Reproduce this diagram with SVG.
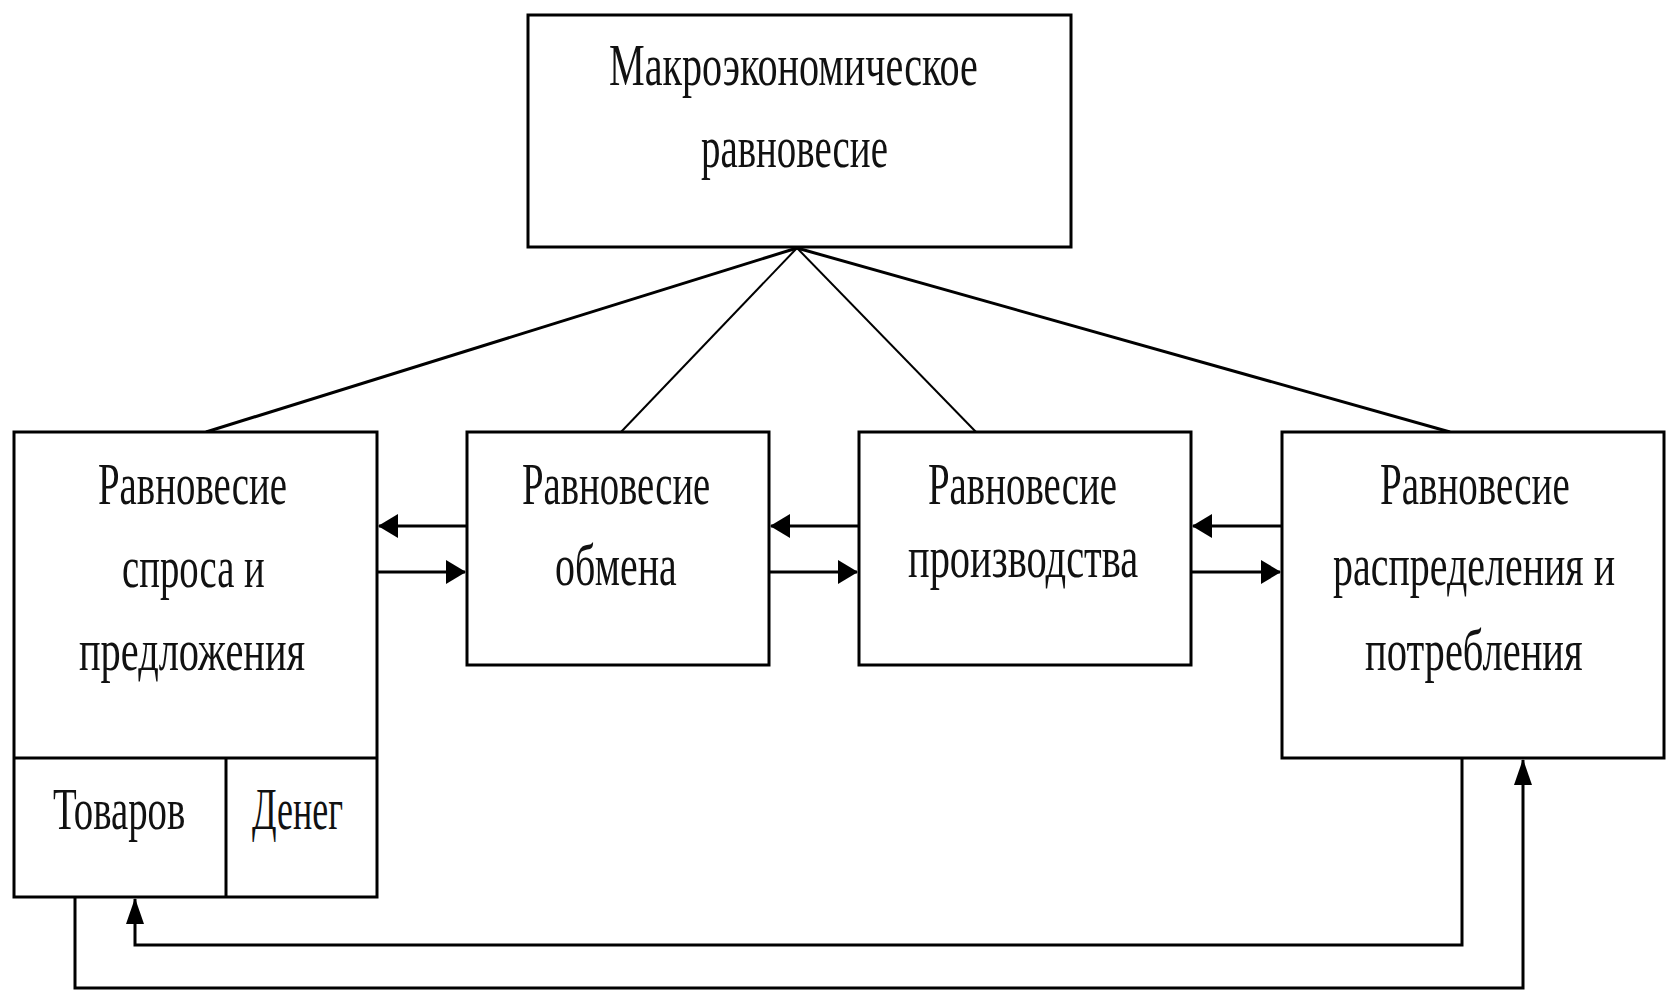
<svg xmlns="http://www.w3.org/2000/svg" width="1666" height="990" viewBox="0 0 1666 990">
<defs>
<style>
.box{fill:#ffffff;stroke:#000000;stroke-width:3}
.ln{fill:none;stroke:#000000;stroke-width:3}
.thin{fill:none;stroke:#000000;stroke-width:2}
.t{font-family:"Liberation Serif","Times New Roman",serif;font-size:60px;fill:#111111}
</style>
<marker id="arrH" markerUnits="userSpaceOnUse" markerWidth="20" markerHeight="24" viewBox="0 0 20 24" refX="19" refY="12" orient="auto">
<path d="M0,0 L20,12 L0,24 z" fill="#000000"/>
</marker>
<marker id="arrV" markerUnits="userSpaceOnUse" markerWidth="26" markerHeight="18" viewBox="0 0 26 18" refX="25" refY="9" orient="auto">
<path d="M0,0 L26,9 L0,18 z" fill="#000000"/>
</marker>
</defs>
<rect width="1666" height="990" fill="#ffffff"/>

<g id="connectors">
<line class="ln" x1="797" y1="248" x2="206" y2="432"/>
<line class="thin" x1="797" y1="248" x2="621" y2="432"/>
<line class="thin" x1="797" y1="248" x2="976" y2="432"/>
<line class="ln" x1="797" y1="248" x2="1450" y2="432"/>

<line class="ln" x1="467" y1="526" x2="379" y2="526" marker-end="url(#arrH)"/>
<line class="ln" x1="377" y1="572" x2="465" y2="572" marker-end="url(#arrH)"/>
<line class="ln" x1="859" y1="526" x2="771" y2="526" marker-end="url(#arrH)"/>
<line class="ln" x1="769" y1="572" x2="857" y2="572" marker-end="url(#arrH)"/>
<line class="ln" x1="1282" y1="526" x2="1193" y2="526" marker-end="url(#arrH)"/>
<line class="ln" x1="1191" y1="572" x2="1280" y2="572" marker-end="url(#arrH)"/>

<polyline class="ln" points="75,897 75,988 1523,988 1523,760" marker-end="url(#arrV)"/>
<polyline class="ln" points="1462,758 1462,945 135,945 135,899" marker-end="url(#arrV)"/>
</g>

<g id="node-macro">
<rect class="box" x="528" y="15" width="543" height="232"/>
<text class="t" transform="translate(609,85) scale(0.7,1)" textLength="527" lengthAdjust="spacingAndGlyphs">Макроэкономическое</text>
<text class="t" transform="translate(701,167) scale(0.7,1)" textLength="267" lengthAdjust="spacingAndGlyphs">равновесие</text>
</g>

<g id="node-supply-demand">
<rect class="box" x="14" y="432" width="363" height="465"/>
<line class="ln" x1="14" y1="758" x2="377" y2="758"/>
<line class="ln" x1="226" y1="758" x2="226" y2="897"/>
<text class="t" transform="translate(98,504) scale(0.7,1)" textLength="270" lengthAdjust="spacingAndGlyphs">Равновесие</text>
<text class="t" transform="translate(122,587) scale(0.7,1)" textLength="204" lengthAdjust="spacingAndGlyphs">спроса и</text>
<text class="t" transform="translate(79,670) scale(0.7,1)" textLength="323" lengthAdjust="spacingAndGlyphs">предложения</text>
<text class="t" transform="translate(53,829) scale(0.7,1)" textLength="189" lengthAdjust="spacingAndGlyphs">Товаров</text>
<text class="t" transform="translate(252,829) scale(0.7,1)" textLength="130" lengthAdjust="spacingAndGlyphs">Денег</text>
</g>

<g id="node-exchange">
<rect class="box" x="467" y="432" width="302" height="233"/>
<text class="t" transform="translate(522,504) scale(0.7,1)" textLength="269" lengthAdjust="spacingAndGlyphs">Равновесие</text>
<text class="t" transform="translate(555,585) scale(0.7,1)" textLength="174" lengthAdjust="spacingAndGlyphs">обмена</text>
</g>

<g id="node-production">
<rect class="box" x="859" y="432" width="332" height="233"/>
<text class="t" transform="translate(928,504) scale(0.7,1)" textLength="270" lengthAdjust="spacingAndGlyphs">Равновесие</text>
<text class="t" transform="translate(908,577) scale(0.7,1)" textLength="329" lengthAdjust="spacingAndGlyphs">производства</text>
</g>

<g id="node-distribution">
<rect class="box" x="1282" y="432" width="382" height="326"/>
<text class="t" transform="translate(1380,504) scale(0.7,1)" textLength="271" lengthAdjust="spacingAndGlyphs">Равновесие</text>
<text class="t" transform="translate(1333,585) scale(0.7,1)" textLength="403" lengthAdjust="spacingAndGlyphs">распределения и</text>
<text class="t" transform="translate(1365,670) scale(0.7,1)" textLength="311" lengthAdjust="spacingAndGlyphs">потребления</text>
</g>
</svg>
